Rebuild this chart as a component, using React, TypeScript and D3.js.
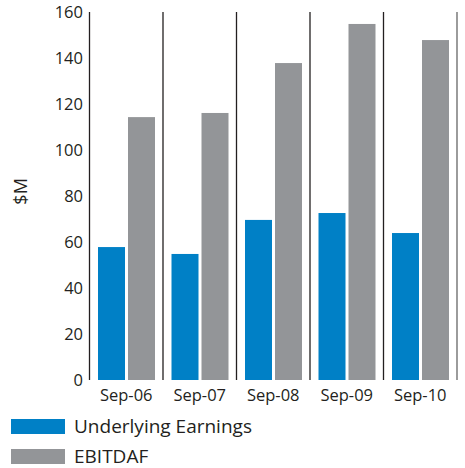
import React from "react";
import * as d3 from "d3";

const categories = ["Sep-06", "Sep-07", "Sep-08", "Sep-09", "Sep-10"];
const underlying = [57.8, 54.8, 69.6, 72.6, 63.9];
const ebitdaf = [114.3, 116.1, 137.8, 154.8, 147.8];
const yTicks = [0, 20, 40, 60, 80, 100, 120, 140, 160];
const seriesNames = ["Underlying Earnings", "EBITDAF"];
const colors = ["#0080C6", "#939598"];

const W = 465;
const H = 468;
const FONT = "'Open Sans', Lato, sans-serif";

export default function App() {
  const x0 = d3.scaleBand<string>().domain(categories).range([89.5, 457]).paddingInner(0).paddingOuter(0);
  const y = d3.scaleLinear().domain([0, 160]).range([380, 12]);
  const x1 = d3.scaleBand<string>().domain(seriesNames).range([8.5, x0.bandwidth() - 8]).paddingInner(0.1);
  const series = [underlying, ebitdaf];

  return (
    <svg width={W} height={H} style={{ position: "absolute", left: 0, top: 0 }} fontFamily={FONT}>
      {yTicks.map((t) => (
        <text key={t} x={83} y={y(t)} dy="0.36em" textAnchor="end" fontSize={16.5} fill="#231f20">
          {t}
        </text>
      ))}
      <text
        transform={`translate(21,${y(82)}) rotate(-90)`}
        textAnchor="middle"
        dy="0.36em"
        fontSize={18}
        fill="#231f20"
      >
        $M
      </text>
      {categories.map((c, i) => (
        <g key={c} transform={`translate(${x0(c)},0)`}>
          {series.map((s, j) => (
            <rect
              key={j}
              x={x1(seriesNames[j])}
              y={y(s[i])}
              width={x1.bandwidth()}
              height={y(0) - y(s[i])}
              fill={colors[j]}
            />
          ))}
        </g>
      ))}
      {[...categories.map((c) => x0(c) as number), 457].map((xv, i) => (
        <line
          key={i}
          x1={xv}
          x2={xv}
          y1={12}
          y2={380}
          stroke={i === 5 ? "#666" : "#231f20"}
          strokeWidth={1.3}
        />
      ))}
      {categories.map((c) => (
        <text
          key={c}
          x={(x0(c) as number) + x0.bandwidth() / 2}
          y={395}
          dy="0.36em"
          textAnchor="middle"
          fontSize={16.5}
          fill="#231f20"
        >
          {c}
        </text>
      ))}
      {seriesNames.map((n, j) => (
        <g key={n} transform={`translate(0,${419 + j * 30})`}>
          <rect x={11} y={0} width={54} height={15} fill={colors[j]} />
          <text x={74} y={7} dy="0.36em" fontSize={19} fill="#231f20">
            {n}
          </text>
        </g>
      ))}
    </svg>
  );
}
